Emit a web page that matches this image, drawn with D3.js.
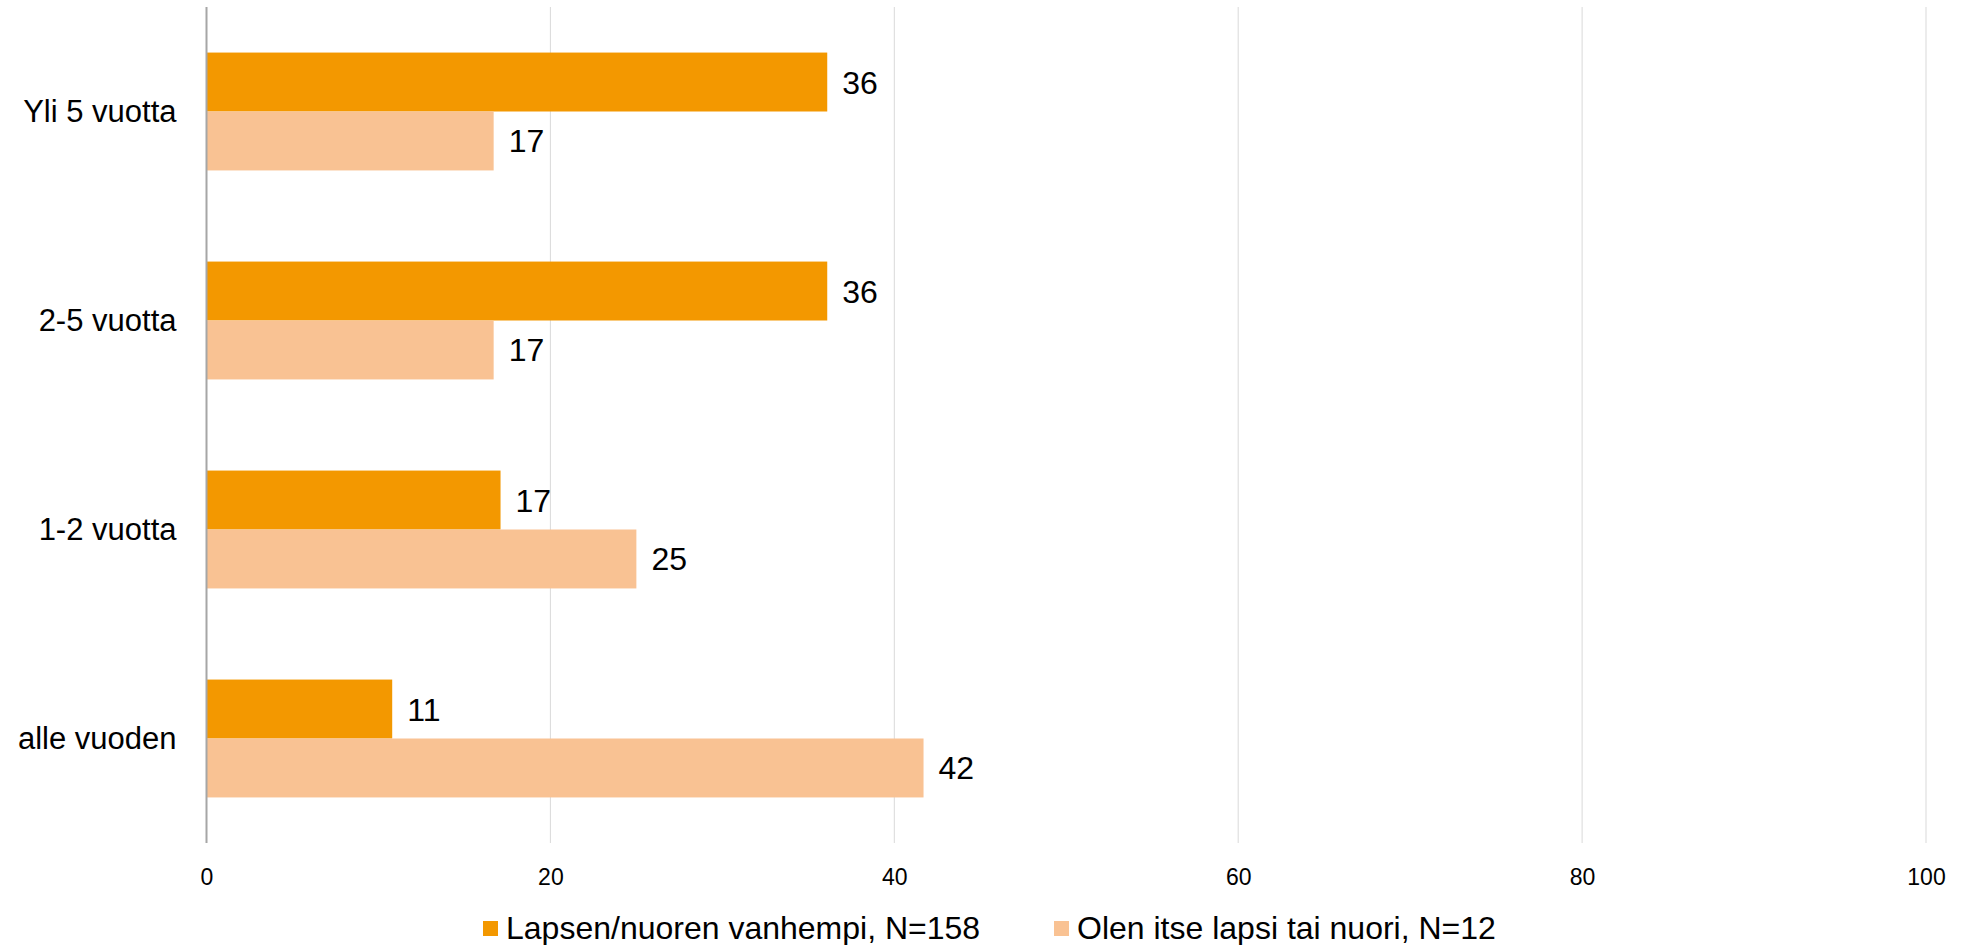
<!DOCTYPE html>
<html><head><meta charset="utf-8">
<script src="https://cdn.jsdelivr.net/npm/d3@7"></script>
<style>body{margin:0;background:#fff}svg{display:block}text{font-family:"Liberation Sans",Arial,sans-serif;fill:#000}</style>
</head><body>
<svg id="c" width="1963" height="945"></svg>
<script>
const categories = ["Yli 5 vuotta", "2-5 vuotta", "1-2 vuotta", "alle vuoden"];
const seriesNames = ["Lapsen/nuoren vanhempi, N=158", "Olen itse lapsi tai nuori, N=12"];
const parents = [36.1, 36.1, 17.1, 10.8];
const kids = [16.7, 16.7, 25.0, 41.7];
const xTicks = [0, 20, 40, 60, 80, 100];
const colors = ["#F39800", "#F9C293"];

(function () {
const svg = d3.select("#c");
const mLeft = 206.5, mRight = 1926, mTop = 7, mBottom = 843;
const x = d3.scaleLinear().domain([0, 100]).range([mLeft, mRight]);
const y = d3.scaleBand().domain(categories).range([mTop, mBottom]).paddingInner(0.436).paddingOuter(0.218);
const y2 = d3.scaleBand().domain([0, 1]).range([0, y.bandwidth()]);

// gridlines
svg.append("g").selectAll("line").data(xTicks.filter(d => d > 0)).join("line")
  .attr("x1", d => x(d)).attr("x2", d => x(d)).attr("y1", mTop).attr("y2", mBottom)
  .attr("stroke", "#d9d9d9").attr("stroke-width", 1);

// x axis labels
const xAxis = d3.axisBottom(x).tickValues(xTicks).tickSize(0).tickPadding(0);
const gx = svg.append("g").attr("transform", `translate(0,${mBottom})`).call(xAxis);
gx.select(".domain").remove();
gx.selectAll("text").attr("font-size", 23).attr("dy", null).attr("y", 42)
  .style("font-family", '"Liberation Sans", Arial, sans-serif').attr("fill", "#000");

const data = categories.map((c, i) => ({c, vals: [parents[i], kids[i]]}));
const groups = svg.append("g").selectAll("g").data(data).join("g")
  .attr("transform", d => `translate(0,${y(d.c)})`);
groups.selectAll("rect").data(d => d.vals).join("rect")
  .attr("x", x(0)).attr("y", (d, i) => y2(i)).attr("height", y2.bandwidth())
  .attr("width", d => x(d) - x(0)).attr("fill", (d, i) => colors[i]);
groups.selectAll("text.v").data(d => d.vals).join("text").attr("class", "v")
  .attr("x", d => x(d) + 15).attr("y", (d, i) => y2(i) + y2.bandwidth() / 2)
  .attr("dy", "0.36em").attr("font-size", 32).text(d => Math.round(d));

// y axis
const yAxis = d3.axisLeft(y).tickSize(0).tickPadding(0);
const gy = svg.append("g").attr("transform", `translate(${mLeft},0)`).call(yAxis);
gy.select(".domain").remove();
gy.selectAll("text").attr("font-size", 31).attr("x", -30).attr("dy", "0.34em")
  .style("font-family", '"Liberation Sans", Arial, sans-serif').attr("fill", "#000");
svg.append("line").attr("x1", x(0)).attr("x2", x(0)).attr("y1", mTop).attr("y2", mBottom)
  .attr("stroke", "#a6a6a6").attr("stroke-width", 2);

// legend
const legX = [483, 1054];
const leg = svg.append("g").selectAll("g").data(seriesNames).join("g")
  .attr("transform", (d, i) => `translate(${legX[i]},921)`);
leg.append("rect").attr("width", 15).attr("height", 15).attr("fill", (d, i) => colors[i]);
leg.append("text").attr("x", 23).attr("y", 18).attr("font-size", 32).text(d => d);
})();
</script>
</body></html>
